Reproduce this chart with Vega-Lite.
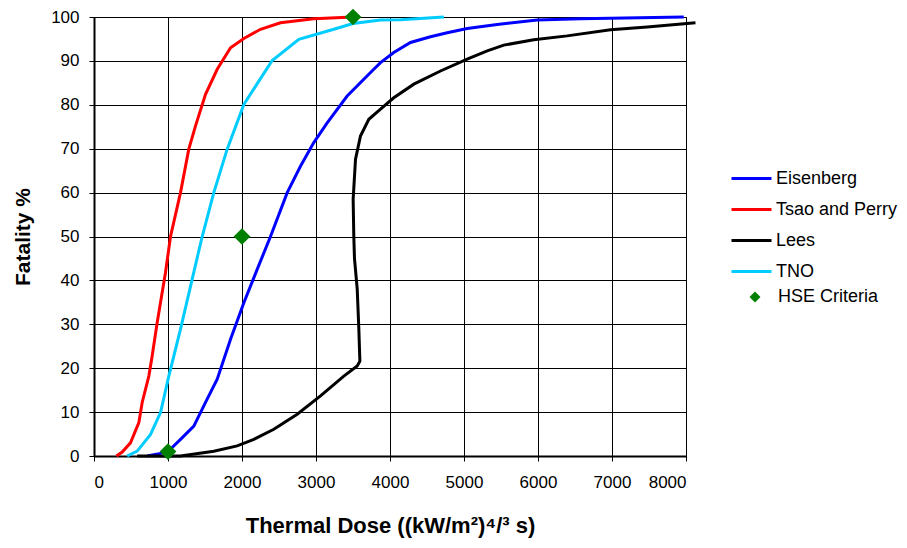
{
  "$schema": "https://vega.github.io/schema/vega-lite/v6.json",
  "width": 592,
  "height": 439,
  "autosize": "none",
  "padding": {"left": 94, "top": 17, "right": 221, "bottom": 92},
  "background": "white",
  "config": {
    "font": "Liberation Sans",
    "view": {"stroke": "black", "strokeWidth": 1},
    "axis": {
      "gridColor": "black", "gridOpacity": 1, "gridWidth": 1,
      "domainColor": "black", "domainWidth": 2,
      "tickColor": "black", "tickSize": 5,
      "labelColor": "black", "labelFontSize": 17, "labelFont": "Liberation Sans",
      "titleColor": "black", "titleFontSize": 21, "titleFontWeight": "bold", "titleFont": "Liberation Sans"
    },
    "legend": {"labelFont": "Liberation Sans", "labelFontSize": 18, "labelColor": "black"}
  },
  "datasets": {
    "curves": [
      {"s":"Eisenberg","i":1,"x":719,"y":0},{"s":"Eisenberg","i":2,"x":899,"y":0.6},{"s":"Eisenberg","i":3,"x":1011,"y":1.2},{"s":"Eisenberg","i":4,"x":1169,"y":3.8},{"s":"Eisenberg","i":5,"x":1349,"y":6.8},{"s":"Eisenberg","i":6,"x":1507,"y":12.2},{"s":"Eisenberg","i":7,"x":1665,"y":17.5},{"s":"Eisenberg","i":8,"x":1845,"y":26.6},{"s":"Eisenberg","i":9,"x":2025,"y":34.9},{"s":"Eisenberg","i":10,"x":2205,"y":42.5},{"s":"Eisenberg","i":11,"x":2385,"y":50},{"s":"Eisenberg","i":12,"x":2611,"y":60},{"s":"Eisenberg","i":13,"x":2790,"y":66},{"s":"Eisenberg","i":14,"x":2970,"y":71.4},{"s":"Eisenberg","i":15,"x":3151,"y":75.9},{"s":"Eisenberg","i":16,"x":3421,"y":82},{"s":"Eisenberg","i":17,"x":3781,"y":88.1},{"s":"Eisenberg","i":18,"x":3872,"y":89.6},{"s":"Eisenberg","i":19,"x":4051,"y":91.9},{"s":"Eisenberg","i":20,"x":4277,"y":94.2},{"s":"Eisenberg","i":21,"x":4547,"y":95.5},{"s":"Eisenberg","i":22,"x":4773,"y":96.4},{"s":"Eisenberg","i":23,"x":5043,"y":97.4},{"s":"Eisenberg","i":24,"x":5449,"y":98.3},{"s":"Eisenberg","i":25,"x":5989,"y":99.3},{"s":"Eisenberg","i":26,"x":6574,"y":99.6},{"s":"Eisenberg","i":27,"x":7970,"y":100},
      {"s":"Tsao and Perry","i":1,"x":304,"y":0},{"s":"Tsao and Perry","i":2,"x":381,"y":0.9},{"s":"Tsao and Perry","i":3,"x":493,"y":3},{"s":"Tsao and Perry","i":4,"x":606,"y":7.6},{"s":"Tsao and Perry","i":5,"x":651,"y":12.2},{"s":"Tsao and Perry","i":6,"x":741,"y":18.2},{"s":"Tsao and Perry","i":7,"x":786,"y":22.8},{"s":"Tsao and Perry","i":8,"x":854,"y":30.4},{"s":"Tsao and Perry","i":9,"x":966,"y":41.8},{"s":"Tsao and Perry","i":10,"x":1034,"y":50},{"s":"Tsao and Perry","i":11,"x":1169,"y":60},{"s":"Tsao and Perry","i":12,"x":1281,"y":69.9},{"s":"Tsao and Perry","i":13,"x":1372,"y":75.2},{"s":"Tsao and Perry","i":14,"x":1507,"y":82.4},{"s":"Tsao and Perry","i":15,"x":1665,"y":88.1},{"s":"Tsao and Perry","i":16,"x":1845,"y":93},{"s":"Tsao and Perry","i":17,"x":2025,"y":95.1},{"s":"Tsao and Perry","i":18,"x":2250,"y":97.2},{"s":"Tsao and Perry","i":19,"x":2520,"y":98.7},{"s":"Tsao and Perry","i":20,"x":2970,"y":99.6},{"s":"Tsao and Perry","i":21,"x":3500,"y":100},
      {"s":"Lees","i":1,"x":584,"y":0},{"s":"Lees","i":2,"x":1169,"y":0},{"s":"Lees","i":3,"x":1619,"y":1.1},{"s":"Lees","i":4,"x":1935,"y":2.3},{"s":"Lees","i":5,"x":2160,"y":3.8},{"s":"Lees","i":6,"x":2430,"y":6.1},{"s":"Lees","i":7,"x":2746,"y":9.5},{"s":"Lees","i":8,"x":3061,"y":13.7},{"s":"Lees","i":9,"x":3376,"y":18.2},{"s":"Lees","i":10,"x":3557,"y":20.5},{"s":"Lees","i":11,"x":3593,"y":21.6},{"s":"Lees","i":12,"x":3579,"y":28.9},{"s":"Lees","i":13,"x":3557,"y":38},{"s":"Lees","i":14,"x":3520,"y":45},{"s":"Lees","i":15,"x":3511,"y":50},{"s":"Lees","i":16,"x":3502,"y":58.5},{"s":"Lees","i":17,"x":3534,"y":67.6},{"s":"Lees","i":18,"x":3601,"y":72.9},{"s":"Lees","i":19,"x":3714,"y":76.7},{"s":"Lees","i":20,"x":3872,"y":79},{"s":"Lees","i":21,"x":4051,"y":81.6},{"s":"Lees","i":22,"x":4322,"y":84.7},{"s":"Lees","i":23,"x":4682,"y":87.7},{"s":"Lees","i":24,"x":5043,"y":90.4},{"s":"Lees","i":25,"x":5314,"y":92.3},{"s":"Lees","i":26,"x":5538,"y":93.6},{"s":"Lees","i":27,"x":5943,"y":94.8},{"s":"Lees","i":28,"x":6394,"y":95.7},{"s":"Lees","i":29,"x":6980,"y":97.1},{"s":"Lees","i":30,"x":7476,"y":97.7},{"s":"Lees","i":31,"x":8128,"y":98.7},
      {"s":"TNO","i":1,"x":448,"y":0},{"s":"TNO","i":2,"x":584,"y":1.1},{"s":"TNO","i":3,"x":764,"y":4.9},{"s":"TNO","i":4,"x":899,"y":9.9},{"s":"TNO","i":5,"x":1011,"y":18.2},{"s":"TNO","i":6,"x":1169,"y":28.9},{"s":"TNO","i":7,"x":1327,"y":40.3},{"s":"TNO","i":8,"x":1462,"y":50},{"s":"TNO","i":9,"x":1619,"y":60},{"s":"TNO","i":10,"x":1800,"y":69.9},{"s":"TNO","i":11,"x":2025,"y":80.1},{"s":"TNO","i":12,"x":2408,"y":90.1},{"s":"TNO","i":13,"x":2768,"y":94.9},{"s":"TNO","i":14,"x":3241,"y":97.2},{"s":"TNO","i":15,"x":3500,"y":98.5},{"s":"TNO","i":16,"x":3872,"y":99.3},{"s":"TNO","i":17,"x":4142,"y":99.4},{"s":"TNO","i":18,"x":4728,"y":100}
    ],
    "hse": [
      {"s":"HSE Criteria","x":1000,"y":1},
      {"s":"HSE Criteria","x":2000,"y":50},
      {"s":"HSE Criteria","x":3500,"y":100}
    ]
  },
  "layer": [
    {
      "data": {"name": "curves"},
      "mark": {"type": "line", "strokeWidth": 3, "clip": false},
      "encoding": {
        "x": {"field": "x", "type": "quantitative",
              "scale": {"domain": [0, 8000], "nice": false},
              "axis": {"values": [0,1000,2000,3000,4000,5000,6000,7000,8000], "format": "d", "labelPadding": 13, "title": "Thermal Dose ((kW/m²)⁴/³ s)", "titleFontSize": 22, "titlePadding": 25}},
        "y": {"field": "y", "type": "quantitative",
              "scale": {"domain": [0, 100], "nice": false},
              "axis": {"values": [0,10,20,30,40,50,60,70,80,90,100], "labelPadding": 10, "title": "Fatality %", "titlePadding": 17}},
        "order": {"field": "i", "type": "quantitative"},
        "color": {"field": "s", "type": "nominal",
                  "scale": {"domain": ["Eisenberg","Tsao and Perry","Lees","TNO"], "range": ["#0000FF","#FF0000","#000000","#00CCFF"]},
                  "legend": {"title": null, "orient": "none", "legendX": 636, "legendY": 140, "symbolType": "stroke", "symbolSize": 1600, "symbolStrokeWidth": 3, "rowPadding": -11, "labelOffset": 3}}
      }
    },
    {
      "data": {"name": "hse"},
      "mark": {"type": "point", "shape": "diamond", "filled": true, "color": "#008000", "size": 280, "opacity": 1, "clip": false},
      "encoding": {
        "x": {"field": "x", "type": "quantitative"},
        "y": {"field": "y", "type": "quantitative"},
        "shape": {"field": "s", "type": "nominal",
                  "scale": {"domain": ["HSE Criteria"], "range": ["diamond"]},
                  "legend": {"title": null, "orient": "none", "legendX": 652, "legendY": 271, "symbolSize": 120, "symbolFillColor": "#008000", "symbolStrokeColor": "#008000", "symbolOpacity": 1, "labelOffset": 14}}
      }
    }
  ]
}
